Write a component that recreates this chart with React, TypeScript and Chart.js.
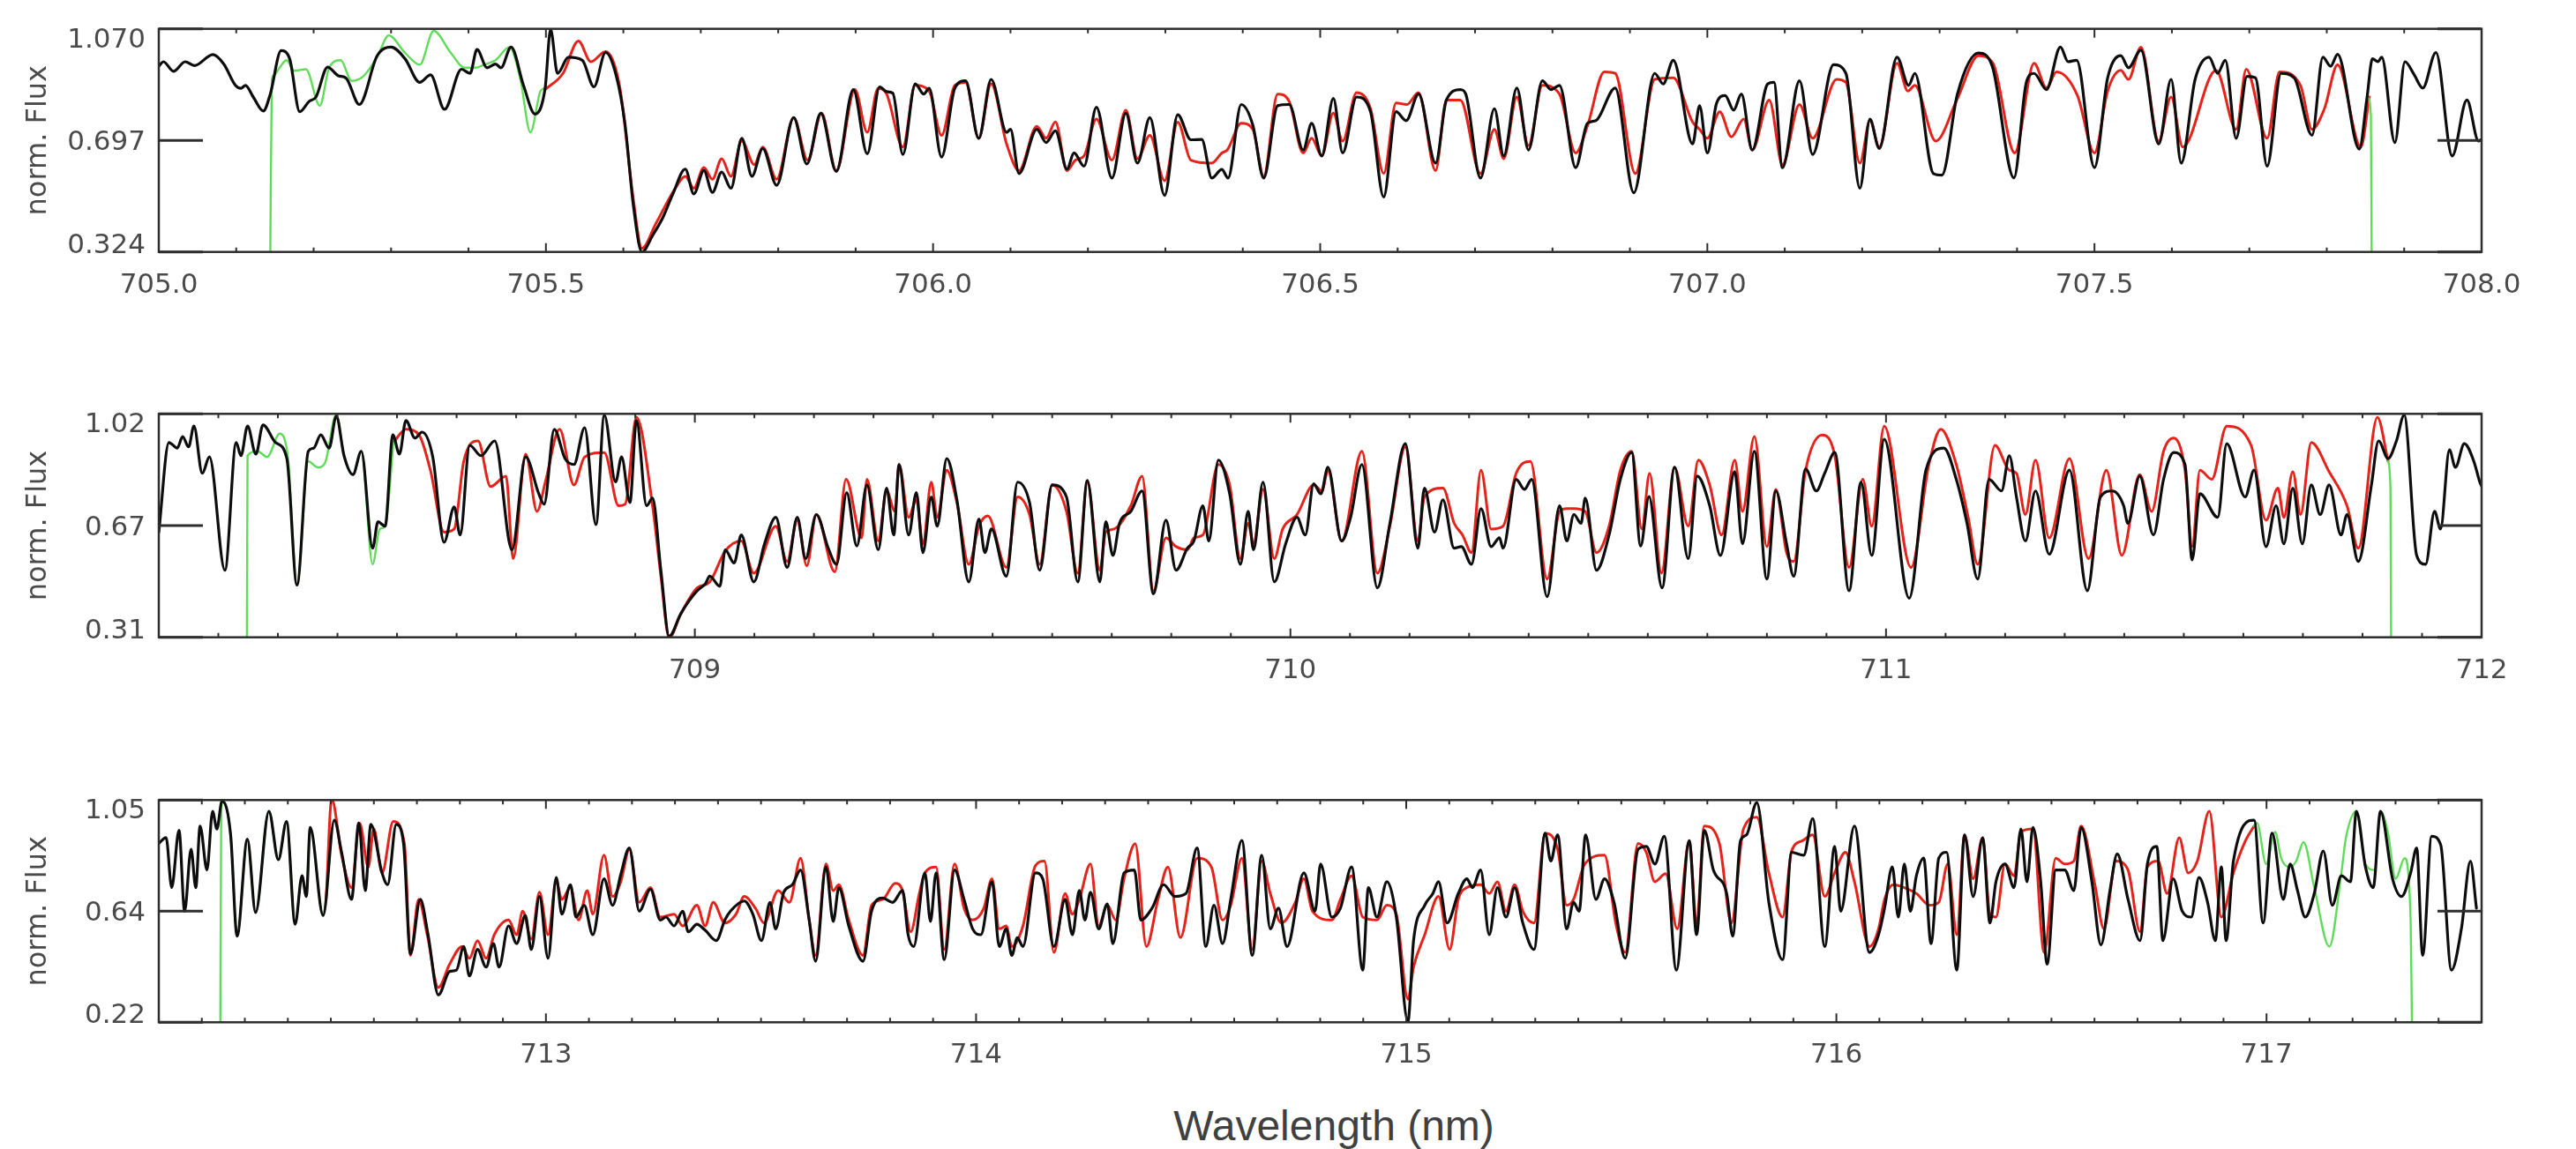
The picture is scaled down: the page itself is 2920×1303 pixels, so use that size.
import React, { useEffect, useRef } from "react";
import { Chart, registerables } from "chart.js";
Chart.register(...registerables);

type Pt = [number, number];

// ---------------- Panel 1 (705.0 - 708.0 nm) ----------------
const P1_X_TICKS = [705.0, 705.5, 706.0, 706.5, 707.0, 707.5, 708.0];
const P1_X_LABELS = ["705.0", "705.5", "706.0", "706.5", "707.0", "707.5", "708.0"];
const P1_Y_TICKS = [0.324, 0.697, 1.07];
const P1_Y_LABELS = ["0.324", "0.697", "1.070"];

const P1_BLACK: Pt[] = [
  [705.000,0.945],[705.006,0.960],[705.019,0.928],[705.034,0.960],[705.046,0.947],[705.070,0.984],[705.084,0.952],
  [705.099,0.881],[705.106,0.871],[705.112,0.881],[705.122,0.842],[705.135,0.795],[705.144,0.852],[705.158,0.997],
  [705.169,0.970],[705.182,0.793],[705.194,0.827],[705.203,0.842],[705.218,0.942],[705.232,0.913],[705.242,0.905],
  [705.259,0.817],[705.282,0.980],[705.300,1.009],[705.318,0.970],[705.337,0.891],[705.351,0.916],[705.369,0.801],
  [705.391,0.935],[705.402,0.921],[705.411,1.001],[705.424,0.940],[705.435,0.952],[705.442,0.940],[705.455,1.009],
  [705.471,0.881],[705.486,0.785],[705.499,0.872],[705.506,1.068],[705.515,0.921],[705.529,0.975],[705.547,0.965],
  [705.562,0.876],[705.577,0.991],[705.591,0.911],[705.602,0.754],[705.613,0.478],[705.624,0.323],[705.638,0.380],
  [705.651,0.439],[705.664,0.518],[705.680,0.601],[705.691,0.518],[705.704,0.596],[705.715,0.523],[705.727,0.591],
  [705.739,0.537],[705.753,0.704],[705.766,0.577],[705.780,0.670],[705.798,0.547],[705.820,0.773],[705.837,0.618],
  [705.855,0.788],[705.875,0.593],[705.897,0.867],[705.915,0.652],[705.931,0.876],[705.940,0.860],[705.948,0.855],
  [705.961,0.650],[705.977,0.886],[705.988,0.852],[705.995,0.871],[706.011,0.641],[706.028,0.871],[706.042,0.896],
  [706.059,0.704],[706.075,0.901],[706.095,0.724],[706.100,0.734],[706.111,0.586],[706.134,0.734],[706.146,0.690],
  [706.158,0.729],[706.173,0.601],[706.182,0.655],[706.195,0.611],[706.211,0.808],[706.231,0.571],[706.249,0.788],
  [706.264,0.621],[706.280,0.773],[706.299,0.513],[706.316,0.783],[706.333,0.699],[706.347,0.700],[706.360,0.571],
  [706.373,0.600],[706.381,0.571],[706.398,0.817],[706.413,0.748],[706.427,0.571],[706.445,0.813],[706.460,0.817],
  [706.478,0.665],[706.489,0.754],[706.502,0.645],[706.517,0.837],[706.529,0.655],[706.547,0.842],[706.565,0.793],
  [706.582,0.508],[706.598,0.793],[706.611,0.763],[706.627,0.852],[706.649,0.621],[706.663,0.832],[706.681,0.867],
  [706.688,0.852],[706.707,0.571],[706.725,0.803],[706.737,0.645],[706.754,0.872],[706.769,0.665],[706.787,0.896],
  [706.798,0.867],[706.809,0.881],[706.830,0.606],[706.845,0.754],[706.856,0.763],[706.881,0.872],[706.905,0.522],
  [706.932,0.921],[706.943,0.886],[706.956,0.965],[706.981,0.685],[706.990,0.813],[707.000,0.655],[707.012,0.822],
  [707.023,0.847],[707.034,0.798],[707.044,0.852],[707.058,0.665],[707.078,0.886],[707.086,0.891],[707.097,0.606],
  [707.119,0.896],[707.136,0.650],[707.163,0.950],[707.179,0.921],[707.197,0.537],[707.210,0.768],[707.222,0.670],
  [707.245,0.975],[707.260,0.881],[707.268,0.921],[707.292,0.586],[707.303,0.581],[707.323,0.852],[707.350,0.989],
  [707.368,0.945],[707.396,0.572],[707.412,0.891],[707.422,0.921],[707.438,0.867],[707.456,1.009],[707.466,0.960],
  [707.477,0.965],[707.500,0.606],[707.517,0.906],[707.534,0.980],[707.544,0.940],[707.560,0.999],[707.583,0.685],
  [707.599,0.901],[707.612,0.621],[707.630,0.901],[707.648,0.975],[707.659,0.921],[707.669,0.965],[707.683,0.704],
  [707.697,0.911],[707.708,0.906],[707.723,0.611],[707.741,0.921],[707.758,0.906],[707.781,0.714],[707.795,0.975],
  [707.805,0.945],[707.814,0.985],[707.842,0.668],[707.852,0.840],[707.859,0.970],[707.866,0.960],[707.871,0.975],
  [707.888,0.690],[707.901,0.960],[707.913,0.916],[707.924,0.872],[707.941,0.991],[707.962,0.645],[707.981,0.832],
  [707.996,0.695],[708.000,0.700],
];

const P1_RED: Pt[] = [
  [705.499,0.867],[705.522,0.921],[705.542,1.029],[705.558,0.960],[705.577,0.994],[705.595,0.881],[705.613,0.498],
  [705.624,0.336],[705.642,0.419],[705.667,0.537],[705.680,0.577],[705.691,0.537],[705.704,0.606],[705.715,0.567],
  [705.727,0.636],[705.739,0.577],[705.753,0.695],[705.769,0.616],[705.780,0.675],[705.798,0.567],[705.820,0.773],
  [705.838,0.631],[705.856,0.788],[705.875,0.596],[705.899,0.867],[705.915,0.724],[705.929,0.871],[705.940,0.852],
  [705.961,0.675],[705.977,0.881],[705.995,0.862],[706.011,0.714],[706.028,0.881],[706.042,0.891],[706.059,0.704],
  [706.075,0.886],[706.095,0.685],[706.111,0.596],[706.134,0.744],[706.146,0.704],[706.158,0.759],[706.173,0.596],
  [706.184,0.631],[706.195,0.645],[706.211,0.768],[706.231,0.631],[706.249,0.798],[706.264,0.636],[706.280,0.714],
  [706.299,0.562],[706.316,0.758],[706.333,0.631],[706.360,0.621],[706.373,0.655],[706.380,0.665],[706.398,0.754],
  [706.413,0.734],[706.427,0.577],[706.445,0.852],[706.460,0.827],[706.478,0.655],[706.489,0.704],[706.502,0.645],
  [706.517,0.788],[706.529,0.695],[706.547,0.857],[706.565,0.803],[706.582,0.586],[706.598,0.822],[706.612,0.817],
  [706.627,0.857],[706.649,0.596],[706.663,0.832],[706.681,0.832],[706.707,0.586],[706.725,0.734],[706.737,0.636],
  [706.754,0.842],[706.769,0.680],[706.787,0.881],[706.809,0.852],[706.830,0.655],[706.845,0.744],[706.867,0.926],
  [706.881,0.921],[706.907,0.586],[706.932,0.901],[706.956,0.906],[706.981,0.758],[706.990,0.734],[707.000,0.704],
  [707.016,0.793],[707.031,0.709],[707.047,0.768],[707.058,0.665],[707.080,0.832],[707.097,0.616],[707.119,0.817],
  [707.136,0.704],[707.167,0.901],[707.179,0.891],[707.197,0.621],[707.210,0.763],[707.222,0.675],[707.245,0.955],
  [707.259,0.862],[707.268,0.881],[707.295,0.695],[707.323,0.837],[707.350,0.980],[707.369,0.955],[707.397,0.655],
  [707.422,0.955],[707.438,0.872],[707.451,0.926],[707.478,0.847],[707.500,0.655],[707.517,0.862],[707.534,0.931],
  [707.544,0.901],[707.560,1.009],[707.583,0.695],[707.599,0.842],[707.614,0.675],[707.657,0.931],[707.683,0.734],
  [707.696,0.935],[707.723,0.704],[707.739,0.926],[707.766,0.881],[707.781,0.734],[707.797,0.803],[707.814,0.950],
  [707.844,0.675],[707.855,0.842],
];

const P1_GREEN_A: Pt[] = [
  [705.144,0.324],[705.146,0.900],[705.148,0.913],[705.156,0.940],[705.165,0.965],[705.175,0.930],[705.190,0.935],
  [705.208,0.813],[705.220,0.940],[705.235,0.965],[705.249,0.896],[705.264,0.911],[705.282,0.975],[705.297,1.048],
  [705.318,0.990],[705.337,0.950],[705.355,1.063],[705.377,0.990],[705.395,0.940],[705.409,0.940],[705.420,0.950],
  [705.435,0.965],[705.453,1.009],[705.467,0.901],[705.480,0.724],[705.493,0.862],[705.499,0.872],
];
const P1_GREEN_B: Pt[] = [[707.853,0.842],[707.857,0.780],[707.858,0.324]];

// ---------------- Panel 2 (708.1 - 712.0 nm) ----------------
const P2_X_TICKS = [709, 710, 711, 712];
const P2_X_LABELS = ["709", "710", "711", "712"];
const P2_Y_TICKS = [0.31, 0.665, 1.02];
const P2_Y_LABELS = ["0.31", "0.67", "1.02"];

const P2_BLACK: Pt[] = [
  [708.100,0.644],[708.117,0.929],[708.131,0.911],[708.140,0.948],[708.150,0.915],[708.159,0.981],[708.173,0.831],
  [708.185,0.883],[708.211,0.523],[708.230,0.929],[708.238,0.887],[708.249,0.981],[708.263,0.892],[708.275,0.985],
  [708.296,0.929],[708.315,0.878],[708.332,0.476],[708.351,0.901],[708.360,0.911],[708.372,0.953],[708.386,0.911],
  [708.398,1.013],[708.411,0.887],[708.426,0.827],[708.440,0.901],[708.459,0.593],[708.468,0.677],[708.480,0.663],
  [708.493,0.953],[708.504,0.892],[708.515,0.999],[708.530,0.943],[708.542,0.962],[708.560,0.883],[708.579,0.612],
  [708.596,0.724],[708.606,0.635],[708.622,0.920],[708.641,0.887],[708.664,0.934],[708.693,0.588],[708.716,0.883],
  [708.738,0.766],[708.747,0.733],[708.764,0.971],[708.782,0.878],[708.797,0.859],[708.815,0.976],[708.834,0.668],
  [708.848,1.016],[708.867,0.803],[708.877,0.883],[708.891,0.738],[708.902,0.999],[708.919,0.728],[708.929,0.752],
  [708.943,0.523],[708.957,0.313],[708.976,0.383],[708.990,0.425],[709.004,0.458],[709.018,0.481],[709.025,0.504],
  [709.042,0.472],[709.051,0.588],[709.066,0.546],[709.078,0.635],[709.099,0.486],[709.117,0.607],[709.136,0.691],
  [709.155,0.532],[709.172,0.691],[709.186,0.560],[709.204,0.700],[709.224,0.593],[709.238,0.542],[709.255,0.770],
  [709.272,0.600],[709.289,0.794],[709.308,0.588],[709.322,0.784],[709.334,0.635],[709.343,0.859],[709.359,0.635],
  [709.372,0.770],[709.383,0.579],[709.397,0.756],[709.407,0.663],[709.423,0.878],[709.440,0.747],[709.460,0.486],
  [709.477,0.686],[709.487,0.579],[709.498,0.654],[709.523,0.504],[709.542,0.803],[709.562,0.738],[709.579,0.523],
  [709.600,0.794],[709.624,0.756],[709.643,0.486],[709.659,0.808],[709.680,0.486],[709.690,0.677],[709.702,0.570],
  [709.713,0.672],[709.732,0.710],[709.751,0.775],[709.770,0.448],[709.791,0.682],[709.808,0.523],[709.827,0.593],
  [709.838,0.616],[709.853,0.728],[709.863,0.616],[709.879,0.873],[709.898,0.766],[709.916,0.542],[709.929,0.710],
  [709.938,0.588],[709.954,0.803],[709.973,0.486],[709.992,0.607],[710.011,0.691],[710.025,0.635],[710.039,0.798],
  [710.051,0.766],[710.063,0.850],[710.086,0.616],[710.101,0.691],[710.120,0.859],[710.146,0.467],[710.167,0.672],
  [710.193,0.925],[710.214,0.593],[710.225,0.784],[710.242,0.644],[710.256,0.747],[710.275,0.593],[710.287,0.598],
  [710.304,0.542],[710.320,0.719],[710.337,0.598],[710.351,0.626],[710.357,0.593],[710.379,0.812],[710.393,0.780],
  [710.405,0.812],[710.431,0.439],[710.452,0.728],[710.464,0.616],[710.476,0.700],[710.488,0.672],[710.495,0.752],
  [710.514,0.523],[710.535,0.635],[710.554,0.812],[710.573,0.897],[710.588,0.600],[710.602,0.757],[710.624,0.467],
  [710.645,0.850],[710.668,0.560],[710.683,0.822],[710.704,0.728],[710.722,0.570],[710.746,0.836],[710.759,0.607],
  [710.779,0.901],[710.800,0.495],[710.815,0.775],[710.833,0.607],[710.845,0.504],[710.865,0.845],[710.883,0.775],
  [710.897,0.831],[710.914,0.897],[710.938,0.458],[710.958,0.803],[710.976,0.570],[710.997,0.939],[711.039,0.434],
  [711.067,0.841],[711.097,0.911],[711.118,0.812],[711.136,0.672],[711.154,0.495],[711.173,0.812],[711.194,0.775],
  [711.207,0.887],[711.219,0.756],[711.234,0.616],[711.251,0.775],[711.274,0.574],[711.308,0.841],[711.338,0.458],
  [711.360,0.756],[711.380,0.775],[711.399,0.728],[711.406,0.672],[711.426,0.822],[711.449,0.635],[711.466,0.812],
  [711.483,0.897],[711.502,0.859],[711.514,0.556],[711.527,0.766],[711.557,0.691],[711.572,0.925],[711.603,0.756],
  [711.618,0.841],[711.638,0.598],[711.655,0.728],[711.668,0.607],[711.683,0.784],[711.699,0.607],[711.714,0.794],
  [711.729,0.700],[711.744,0.794],[711.764,0.635],[711.774,0.700],[711.793,0.551],[711.815,0.794],[711.827,0.934],
  [711.843,0.878],[711.857,0.934],[711.870,1.016],[711.891,0.570],[711.906,0.542],[711.921,0.710],[711.931,0.654],
  [711.946,0.906],[711.956,0.850],[711.971,0.925],[711.987,0.869],[711.997,0.803],[712.000,0.790],
];

const P2_RED: Pt[] = [
  [708.494,0.929],[708.515,0.971],[708.537,0.953],[708.556,0.841],[708.579,0.644],[708.596,0.654],[708.612,0.869],
  [708.636,0.934],[708.657,0.789],[708.683,0.822],[708.695,0.560],[708.716,0.892],[708.735,0.710],[708.749,0.803],
  [708.773,0.971],[708.797,0.794],[708.815,0.883],[708.848,0.897],[708.872,0.728],[708.883,0.733],[708.902,1.009],
  [708.929,0.728],[708.943,0.504],[708.957,0.308],[708.976,0.383],[709.004,0.467],[709.025,0.486],[709.051,0.584],
  [709.078,0.616],[709.099,0.514],[709.136,0.663],[709.155,0.551],[709.172,0.682],[709.188,0.537],[709.204,0.700],
  [709.235,0.518],[709.254,0.812],[709.280,0.626],[709.289,0.812],[709.308,0.616],[709.322,0.775],[709.336,0.710],
  [709.343,0.859],[709.359,0.691],[709.372,0.747],[709.383,0.607],[709.397,0.803],[709.407,0.691],[709.423,0.841],
  [709.440,0.738],[709.460,0.542],[709.477,0.663],[709.492,0.696],[709.523,0.532],[709.542,0.756],[709.562,0.700],
  [709.579,0.542],[709.600,0.794],[709.624,0.710],[709.643,0.514],[709.659,0.803],[709.680,0.523],[709.690,0.644],
  [709.704,0.654],[709.732,0.728],[709.751,0.822],[709.770,0.458],[709.791,0.626],[709.808,0.598],[709.827,0.588],
  [709.838,0.626],[709.853,0.635],[709.879,0.859],[709.898,0.794],[709.916,0.560],[709.929,0.672],[709.938,0.607],
  [709.954,0.780],[709.973,0.560],[709.987,0.654],[710.011,0.700],[710.039,0.794],[710.053,0.775],[710.063,0.841],
  [710.086,0.616],[710.120,0.901],[710.146,0.514],[710.167,0.663],[710.193,0.915],[710.214,0.616],[710.225,0.756],
  [710.256,0.784],[710.275,0.672],[710.289,0.635],[710.304,0.579],[710.320,0.841],[710.337,0.654],[710.357,0.663],
  [710.379,0.831],[710.403,0.869],[710.431,0.495],[710.452,0.710],[710.464,0.719],[710.476,0.719],[710.495,0.710],
  [710.514,0.579],[710.535,0.663],[710.554,0.841],[710.573,0.901],[710.590,0.654],[710.603,0.831],[710.623,0.514],
  [710.645,0.850],[710.668,0.663],[710.685,0.873],[710.704,0.794],[710.724,0.635],[710.746,0.873],[710.759,0.710],
  [710.779,0.948],[710.800,0.598],[710.815,0.780],[710.833,0.579],[710.845,0.551],[710.865,0.841],[710.893,0.953],
  [710.914,0.887],[710.938,0.532],[710.961,0.812],[710.976,0.663],[710.997,0.981],[711.042,0.532],[711.072,0.859],
  [711.092,0.971],[711.118,0.859],[711.138,0.691],[711.154,0.542],[711.183,0.920],[711.207,0.841],[711.219,0.831],
  [711.234,0.700],[711.251,0.873],[711.274,0.626],[711.308,0.878],[711.340,0.560],[711.370,0.841],[711.396,0.570],
  [711.426,0.827],[711.446,0.710],[711.466,0.901],[711.483,0.943],[711.502,0.841],[711.514,0.598],[711.527,0.841],
  [711.547,0.812],[711.572,0.981],[711.613,0.920],[711.638,0.682],[711.658,0.784],[711.668,0.691],[711.683,0.836],
  [711.696,0.700],[711.714,0.929],[711.744,0.836],[711.774,0.728],[711.793,0.593],[711.825,1.009],[711.843,0.869],
];

const P2_GREEN_A: Pt[] = [
  [708.248,0.310],[708.249,0.887],[708.266,0.901],[708.282,0.883],[708.303,0.957],[708.317,0.878],[708.332,0.476],
  [708.351,0.869],[708.367,0.850],[708.379,0.864],[708.398,1.018],[708.411,0.887],[708.426,0.827],[708.440,0.901],
  [708.459,0.542],[708.471,0.654],[708.480,0.663],[708.494,0.929],
];
const P2_GREEN_B: Pt[] = [[711.843,0.869],[711.847,0.780],[711.848,0.310]];

// ---------------- Panel 3 (712.1 - 717.5 nm) ----------------
const P3_X_TICKS = [713, 714, 715, 716, 717];
const P3_X_LABELS = ["713", "714", "715", "716", "717"];
const P3_Y_TICKS = [0.22, 0.635, 1.05];
const P3_Y_LABELS = ["0.22", "0.64", "1.05"];

const P3_BLACK: Pt[] = [
  [712.100,0.888],[712.117,0.910],[712.130,0.723],[712.147,0.937],[712.160,0.635],[712.175,0.866],[712.186,0.723],
  [712.196,0.953],[712.212,0.789],[712.225,1.008],[712.235,0.942],[712.247,1.046],[712.267,0.920],[712.282,0.542],
  [712.306,0.904],[712.325,0.630],[712.356,1.008],[712.378,0.827],[712.397,0.970],[712.417,0.586],[712.433,0.767],
  [712.443,0.690],[712.452,0.948],[712.482,0.619],[712.508,0.975],[712.525,0.855],[712.548,0.679],[712.565,0.964],
  [712.580,0.712],[712.593,0.959],[712.619,0.778],[712.632,0.734],[712.652,0.959],[712.669,0.888],[712.685,0.476],
  [712.708,0.679],[712.726,0.547],[712.750,0.322],[712.776,0.410],[712.792,0.415],[712.809,0.503],[712.822,0.393],
  [712.841,0.492],[712.861,0.426],[712.878,0.514],[712.891,0.426],[712.913,0.580],[712.932,0.514],[712.952,0.619],
  [712.966,0.492],[712.985,0.690],[713.005,0.459],[713.024,0.761],[713.037,0.624],[713.057,0.734],[713.070,0.613],
  [713.089,0.657],[713.109,0.547],[713.135,0.756],[713.155,0.657],[713.174,0.772],[713.194,0.871],[713.217,0.635],
  [713.243,0.717],[713.266,0.602],[713.279,0.613],[713.298,0.580],[713.318,0.635],[713.331,0.558],[713.351,0.586],
  [713.370,0.564],[713.396,0.525],[713.416,0.602],[713.429,0.635],[713.461,0.673],[713.481,0.624],[713.501,0.525],
  [713.521,0.668],[713.534,0.569],[713.553,0.706],[713.573,0.734],[713.592,0.789],[713.612,0.602],[713.627,0.448],
  [713.651,0.800],[713.668,0.597],[713.681,0.723],[713.704,0.580],[713.737,0.448],[713.757,0.635],[713.783,0.684],
  [713.806,0.668],[713.829,0.712],[713.842,0.547],[713.855,0.503],[713.881,0.778],[713.894,0.597],[713.907,0.778],
  [713.926,0.454],[713.950,0.789],[713.972,0.679],[713.992,0.569],[714.011,0.547],[714.037,0.745],[714.054,0.503],
  [714.070,0.569],[714.083,0.470],[714.096,0.536],[714.109,0.503],[714.138,0.778],[714.155,0.756],[714.181,0.503],
  [714.207,0.679],[714.224,0.547],[714.240,0.712],[714.253,0.602],[714.266,0.706],[714.285,0.569],[714.305,0.662],
  [714.318,0.514],[714.344,0.778],[714.368,0.789],[714.383,0.602],[714.409,0.646],[714.436,0.734],[714.462,0.690],
  [714.488,0.701],[714.514,0.871],[714.534,0.503],[714.553,0.657],[714.573,0.514],[714.592,0.679],[714.618,0.899],
  [714.642,0.470],[714.664,0.844],[714.684,0.569],[714.703,0.646],[714.723,0.503],[714.762,0.778],[714.788,0.635],
  [714.801,0.811],[714.827,0.613],[714.847,0.646],[714.873,0.800],[714.899,0.415],[714.912,0.723],[714.932,0.613],
  [714.955,0.745],[714.977,0.613],[715.004,0.223],[715.017,0.525],[715.043,0.657],[715.062,0.701],[715.075,0.745],
  [715.095,0.591],[715.121,0.701],[715.141,0.756],[715.154,0.723],[715.173,0.789],[715.193,0.547],[715.212,0.723],
  [715.232,0.613],[715.252,0.723],[715.271,0.591],[715.297,0.492],[715.323,0.926],[715.336,0.822],[715.352,0.920],
  [715.373,0.569],[715.389,0.668],[715.402,0.635],[715.417,0.920],[715.441,0.679],[715.461,0.756],[715.483,0.668],
  [715.509,0.459],[715.539,0.866],[715.558,0.877],[715.578,0.811],[715.600,0.915],[715.628,0.415],[715.658,0.898],
  [715.675,0.547],[715.693,0.937],[715.714,0.789],[715.745,0.701],[715.759,0.542],[715.777,0.898],[715.791,0.920],
  [715.815,1.041],[715.843,0.668],[715.875,0.454],[715.896,0.855],[715.924,0.844],[715.945,0.981],[715.973,0.503],
  [715.996,0.877],[716.010,0.635],[716.042,0.953],[716.077,0.481],[716.098,0.547],[716.112,0.646],[716.130,0.800],
  [716.144,0.613],[716.158,0.811],[716.172,0.635],[716.186,0.767],[716.203,0.833],[716.220,0.514],[716.238,0.833],
  [716.256,0.855],[716.280,0.415],[716.298,0.920],[716.318,0.690],[716.340,0.909],[716.357,0.591],[716.371,0.745],
  [716.392,0.811],[716.413,0.723],[716.429,0.942],[716.443,0.745],[716.457,0.948],[716.475,0.745],[716.490,0.437],
  [716.510,0.789],[716.531,0.789],[716.552,0.712],[716.569,0.948],[716.594,0.745],[716.615,0.509],[716.636,0.712],
  [716.653,0.849],[716.678,0.679],[716.706,0.525],[716.723,0.811],[716.745,0.877],[716.759,0.525],[716.783,0.756],
  [716.804,0.635],[716.825,0.613],[716.843,0.761],[716.863,0.668],[716.881,0.525],[716.895,0.800],[716.906,0.525],
  [716.923,0.822],[716.971,0.975],[716.992,0.591],[717.013,0.926],[717.039,0.679],[717.055,0.811],[717.072,0.712],
  [717.090,0.613],[717.111,0.701],[717.132,0.860],[717.153,0.657],[717.174,0.767],[717.195,0.745],[717.209,1.008],
  [717.230,0.800],[717.248,0.723],[717.265,1.008],[717.293,0.756],[717.314,0.690],[717.335,0.778],[717.349,0.871],
  [717.363,0.470],[717.384,0.915],[717.405,0.882],[717.430,0.415],[717.453,0.569],[717.474,0.822],[717.488,0.646],
];

const P3_RED: Pt[] = [
  [712.489,0.679],[712.502,1.054],[712.525,0.844],[712.548,0.723],[712.567,0.964],[712.587,0.800],[712.600,0.942],
  [712.619,0.778],[712.645,0.970],[712.671,0.888],[712.685,0.470],[712.704,0.679],[712.724,0.547],[712.750,0.350],
  [712.776,0.437],[712.805,0.503],[712.822,0.459],[712.841,0.525],[712.861,0.459],[712.880,0.547],[712.913,0.602],
  [712.932,0.547],[712.946,0.635],[712.966,0.531],[712.985,0.706],[713.005,0.547],[713.024,0.745],[713.037,0.679],
  [713.057,0.723],[713.076,0.602],[713.096,0.712],[713.109,0.624],[713.135,0.844],[713.155,0.690],[713.174,0.745],
  [713.194,0.866],[713.217,0.668],[713.243,0.723],[713.266,0.613],[713.298,0.624],[713.318,0.580],[713.351,0.657],
  [713.370,0.580],[713.389,0.668],[713.416,0.591],[713.442,0.624],[713.461,0.690],[713.487,0.646],[713.507,0.591],
  [713.540,0.712],[713.566,0.668],[713.592,0.833],[713.612,0.602],[713.627,0.470],[713.651,0.811],[713.668,0.712],
  [713.681,0.734],[713.704,0.602],[713.737,0.470],[713.757,0.657],[713.783,0.679],[713.812,0.739],[713.829,0.712],
  [713.848,0.558],[713.868,0.701],[713.881,0.778],[713.907,0.800],[713.926,0.492],[713.950,0.811],[713.972,0.646],
  [713.992,0.602],[714.018,0.646],[714.037,0.756],[714.054,0.569],[714.070,0.580],[714.083,0.503],[714.109,0.580],
  [714.138,0.805],[714.159,0.822],[714.181,0.481],[714.207,0.701],[714.224,0.624],[714.240,0.679],[714.266,0.811],
  [714.285,0.580],[714.305,0.657],[714.325,0.602],[714.344,0.756],[714.370,0.887],[714.396,0.503],[714.423,0.679],
  [714.446,0.800],[714.475,0.536],[714.514,0.833],[714.547,0.800],[714.573,0.602],[714.592,0.657],[714.618,0.833],
  [714.642,0.492],[714.664,0.822],[714.684,0.701],[714.710,0.591],[714.742,0.668],[714.762,0.756],[714.782,0.635],
  [714.827,0.602],[714.847,0.679],[714.873,0.767],[714.899,0.613],[714.932,0.602],[714.955,0.657],[714.977,0.624],
  [715.004,0.306],[715.017,0.426],[715.043,0.547],[715.075,0.690],[715.101,0.492],[715.121,0.679],[715.141,0.723],
  [715.173,0.734],[715.193,0.701],[715.212,0.745],[715.232,0.635],[715.252,0.734],[715.271,0.635],[715.297,0.591],
  [715.323,0.926],[715.352,0.866],[715.373,0.657],[715.389,0.679],[715.415,0.811],[715.461,0.844],[715.487,0.591],
  [715.509,0.481],[715.539,0.888],[715.558,0.855],[715.578,0.745],[715.603,0.775],[715.630,0.569],[715.658,0.898],
  [715.675,0.591],[715.693,0.953],[715.728,0.888],[715.756,0.591],[715.784,0.942],[715.815,0.986],[715.843,0.778],
  [715.875,0.613],[715.896,0.860],[715.921,0.898],[715.945,0.920],[715.973,0.690],[715.996,0.778],[716.021,0.855],
  [716.042,0.745],[716.077,0.503],[716.098,0.569],[716.112,0.679],[716.133,0.734],[716.158,0.723],[716.186,0.701],
  [716.217,0.657],[716.238,0.668],[716.259,0.811],[716.280,0.547],[716.298,0.920],[716.318,0.756],[716.340,0.909],
  [716.357,0.624],[716.371,0.613],[716.392,0.811],[716.413,0.767],[716.429,0.931],[716.457,0.942],[716.483,0.481],
  [716.510,0.833],[716.531,0.811],[716.552,0.822],[716.569,0.953],[716.601,0.734],[716.622,0.569],[716.650,0.822],
  [716.678,0.789],[716.706,0.558],[716.723,0.800],[716.748,0.822],[716.769,0.701],[716.797,0.909],[716.818,0.778],
  [716.839,0.822],[716.867,1.008],[716.895,0.613],[716.923,0.778],[716.951,0.898],[716.971,0.953],
];

const P3_GREEN_A: Pt[] = [
  [712.243,0.220],[712.245,0.960],[712.247,1.046],[712.267,0.920],[712.282,0.542],[712.306,0.904],[712.325,0.630],
  [712.356,1.008],[712.378,0.827],[712.397,0.970],[712.417,0.586],[712.433,0.767],[712.443,0.690],[712.452,0.948],
  [712.482,0.619],[712.489,0.679],
];
const P3_GREEN_B: Pt[] = [
  [716.971,0.953],[716.978,0.964],[716.999,0.811],[717.020,0.931],[717.034,0.833],[717.055,0.800],[717.069,0.822],
  [717.086,0.893],[717.111,0.723],[717.146,0.503],[717.174,0.778],[717.184,0.904],[717.209,1.008],[717.230,0.811],
  [717.251,0.789],[717.265,1.008],[717.282,0.931],[717.300,0.756],[717.321,0.833],[717.335,0.602],[717.338,0.220],
];

// ---------------- styling ----------------
const BLACK = "#0d0d0d";
const RED = "#e5231b";
const GREEN = "#5fdc58";
const FRAME = "#2e2e2e";
const TEXT = "#4a4a4a";
const TICK_FONT = "31px 'DejaVu Sans', 'Liberation Sans', sans-serif";
const YTITLE_FONT = "32px 'DejaVu Sans', 'Liberation Sans', sans-serif";
const MINOR_STEP = 0.1;

interface PanelSpec {
  canvasTop: number;
  canvasHeight: number;
  plotTop: number;
  plotBottom: number;
  xMin: number;
  xMax: number;
  yMin: number;
  yMax: number;
  xTicks: number[];
  xLabels: string[];
  yTicks: number[];
  yLabels: string[];
  black: Pt[];
  red: Pt[];
  greens: Pt[][];
}

const PLOT_LEFT = 180;
const PLOT_RIGHT = 2813;
const PAGE_W = 2920;

const PANELS: PanelSpec[] = [
  {
    canvasTop: 0, canvasHeight: 360, plotTop: 32.7, plotBottom: 285.7,
    xMin: 705.0, xMax: 708.0, yMin: 0.324, yMax: 1.07,
    xTicks: P1_X_TICKS, xLabels: P1_X_LABELS, yTicks: P1_Y_TICKS, yLabels: P1_Y_LABELS,
    black: P1_BLACK, red: P1_RED, greens: [P1_GREEN_A, P1_GREEN_B],
  },
  {
    canvasTop: 430, canvasHeight: 370, plotTop: 469.3, plotBottom: 722.7,
    xMin: 708.1, xMax: 712.0, yMin: 0.31, yMax: 1.02,
    xTicks: P2_X_TICKS, xLabels: P2_X_LABELS, yTicks: P2_Y_TICKS, yLabels: P2_Y_LABELS,
    black: P2_BLACK, red: P2_RED, greens: [P2_GREEN_A, P2_GREEN_B],
  },
  {
    canvasTop: 870, canvasHeight: 350, plotTop: 907.3, plotBottom: 1159.3,
    xMin: 712.1, xMax: 717.5, yMin: 0.22, yMax: 1.05,
    xTicks: P3_X_TICKS, xLabels: P3_X_LABELS, yTicks: P3_Y_TICKS, yLabels: P3_Y_LABELS,
    black: P3_BLACK, red: P3_RED, greens: [P3_GREEN_A, P3_GREEN_B],
  },
];

function toXY(arr: Pt[]) {
  return arr.map(([x, y]) => ({ x, y }));
}

function makeFramePlugin(spec: PanelSpec) {
  return {
    id: "idlFrame",
    afterDatasetsDraw(chart: any) {
      const { ctx, chartArea } = chart;
      const xs = chart.scales.x;
      const ys = chart.scales.y;
      const L = chartArea.left, R = chartArea.right, T = chartArea.top, B = chartArea.bottom;
      ctx.save();
      ctx.strokeStyle = FRAME;
      ctx.lineCap = "butt";
      ctx.lineWidth = 2;
      const n = Math.round((spec.xMax - spec.xMin) / MINOR_STEP);
      for (let i = 0; i <= n; i++) {
        const v = spec.xMin + i * MINOR_STEP;
        const isMajor = spec.xTicks.some((t) => Math.abs(t - v) < 1e-6);
        const len = isMajor ? 10 : 5;
        const px = xs.getPixelForValue(v);
        ctx.beginPath();
        ctx.moveTo(px, B);
        ctx.lineTo(px, B - len);
        ctx.moveTo(px, T);
        ctx.lineTo(px, T + len);
        ctx.stroke();
      }
      ctx.lineWidth = 3;
      spec.yTicks.forEach((v) => {
        const py = ys.getPixelForValue(v);
        ctx.beginPath();
        ctx.moveTo(L, py);
        ctx.lineTo(L + 50, py);
        ctx.moveTo(R - 50, py);
        ctx.lineTo(R, py);
        ctx.stroke();
      });
      ctx.lineWidth = 2.5;
      ctx.strokeRect(L, T, R - L, B - T);

      ctx.fillStyle = TEXT;
      ctx.font = TICK_FONT;
      ctx.textAlign = "center";
      ctx.textBaseline = "alphabetic";
      spec.xTicks.forEach((v, i) => {
        ctx.fillText(spec.xLabels[i], xs.getPixelForValue(v), B + 46);
      });
      ctx.textAlign = "right";
      ctx.textBaseline = "middle";
      spec.yTicks.forEach((v, i) => {
        const py = ys.getPixelForValue(v);
        const off = i === 0 ? -7 : i === spec.yTicks.length - 1 ? 13 : 3;
        ctx.fillText(spec.yLabels[i], L - 15, py + off);
      });
      ctx.font = YTITLE_FONT;
      ctx.textAlign = "center";
      ctx.textBaseline = "alphabetic";
      ctx.translate(52, (T + B) / 2);
      ctx.rotate(-Math.PI / 2);
      ctx.fillText("norm. Flux", 0, 0);
      ctx.restore();
    },
  };
}

function Panel({ spec }: { spec: PanelSpec }) {
  const ref = useRef<HTMLCanvasElement | null>(null);
  useEffect(() => {
    const canvas = ref.current;
    if (!canvas) return;
    const lineDs = (data: Pt[], color: string, width: number) => ({
      data: toXY(data),
      borderColor: color,
      backgroundColor: color,
      borderWidth: width,
      pointRadius: 0,
      fill: false,
      cubicInterpolationMode: "monotone" as const,
      borderJoinStyle: "round" as const,
      borderCapStyle: "round" as const,
    });
    const chart = new Chart(canvas, {
      type: "line",
      data: {
        datasets: [
          lineDs(spec.black, BLACK, 3.2),
          ...spec.greens.map((g) => lineDs(g, GREEN, 2.4)),
          lineDs(spec.red, RED, 3.0),
        ],
      },
      options: {
        animation: false,
        responsive: false,
        maintainAspectRatio: false,
        events: [],
        layout: {
          padding: {
            left: PLOT_LEFT,
            right: PAGE_W - PLOT_RIGHT,
            top: spec.plotTop - spec.canvasTop,
            bottom: spec.canvasTop + spec.canvasHeight - spec.plotBottom,
          },
        },
        plugins: { legend: { display: false }, tooltip: { enabled: false }, title: { display: false } },
        scales: {
          x: { type: "linear", min: spec.xMin, max: spec.xMax, display: false },
          y: { type: "linear", min: spec.yMin, max: spec.yMax, display: false },
        },
      },
      plugins: [makeFramePlugin(spec)],
    });
    return () => chart.destroy();
  }, [spec]);
  return (
    <canvas
      ref={ref}
      width={PAGE_W}
      height={spec.canvasHeight}
      style={{ position: "absolute", left: 0, top: spec.canvasTop, width: PAGE_W, height: spec.canvasHeight, display: "block" }}
    />
  );
}

export default function App() {
  return (
    <div style={{ position: "absolute", left: 0, top: 0, width: PAGE_W, height: 1303, background: "#ffffff", overflow: "hidden" }}>
      {PANELS.map((p, i) => (
        <Panel key={i} spec={p} />
      ))}
      <div
        style={{
          position: "absolute",
          left: 0,
          width: 3024,
          top: 1253,
          textAlign: "center",
          fontFamily: "'Liberation Sans', Arial, sans-serif",
          fontSize: 48,
          lineHeight: "48px",
          color: "#404040",
          whiteSpace: "nowrap",
        }}
      >
        Wavelength (nm)
      </div>
    </div>
  );
}
